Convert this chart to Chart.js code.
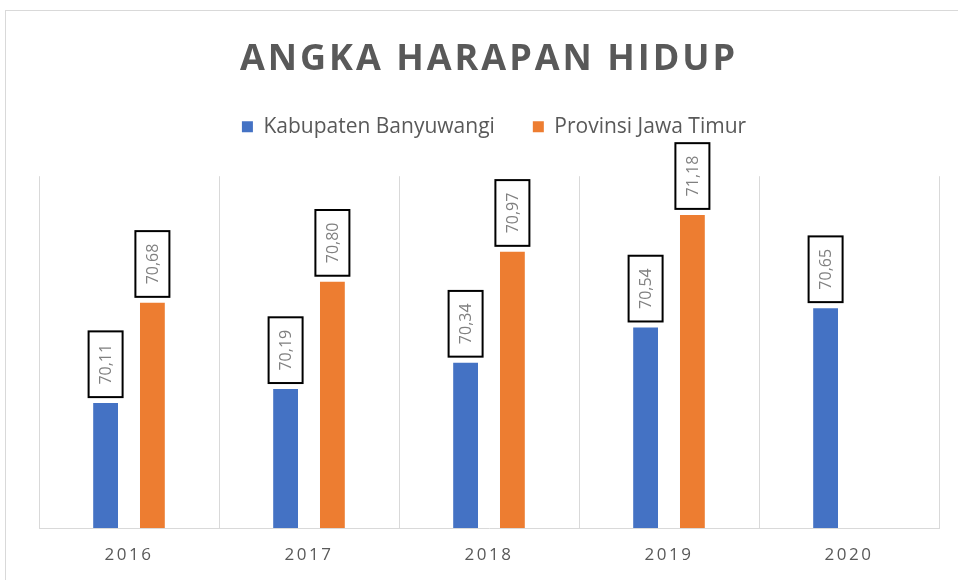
<!DOCTYPE html>
<html>
<head>
<meta charset="utf-8">
<script src="https://cdn.jsdelivr.net/npm/chart.js@4.4.1/dist/chart.umd.min.js"></script>
<style>
  html, body { margin: 0; padding: 0; background: #fff; overflow: hidden; }
  #frame { position: absolute; left: 5px; top: 10px; width: 1000px; height: 700px; border: 1px solid #d9d9d9; }
  #wrap { position: absolute; left: 0; top: 0; width: 958px; height: 580px; }
</style>
</head>
<body>
<div id="frame"></div>
<div id="wrap"><canvas id="chart"></canvas></div>
<script>
// Datos
const years = ['2016', '2017', '2018', '2019', '2020'];
const banyuwangi = [70.11, 70.19, 70.34, 70.54, 70.65];
const jatim = [70.68, 70.80, 70.97, 71.18, null];
const yMin = 69.4;
const yMax = 71.4;

const fmt = v => v.toFixed(2).replace('.', ',');

// Espaciado de letras (título y años) y ajuste de la leyenda
const spacingPlugin = {
    id: 'spacing',
    afterInit(chart) {
        const lg = chart.legend;
        const origFit = lg.fit.bind(lg);
        lg.fit = function() {
            origFit();
            this.height += 8;
        };
        const origDraw = lg.draw.bind(lg);
        lg.draw = function() {
            chart.ctx.save();
            chart.ctx.translate(5, -21);
            origDraw();
            chart.ctx.restore();
        };
    },
    beforeDraw(chart) {
        const t = chart.titleBlock;
        if (t && !t._spaced) {
            const orig = t.draw.bind(t);
            t.draw = function() {
                chart.ctx.save();
                chart.ctx.letterSpacing = '3px';
                orig();
                chart.ctx.restore();
            };
            t._spaced = true;
        }
        const xs = chart.scales.x;
        if (xs && !xs._spaced) {
            const origL = xs.drawLabels.bind(xs);
            xs.drawLabels = function(area) {
                chart.ctx.save();
                chart.ctx.letterSpacing = '2.5px';
                origL(area);
                chart.ctx.restore();
            };
            xs._spaced = true;
        }
    }
};

// Etiquetas de datos en cajas
const boxLabels = {
    id: 'boxLabels',
    afterDatasetsDraw(chart) {
        const ctx = chart.ctx;
        ctx.save();
        ctx.font = '16px "Open Sans"';
        chart.data.datasets.forEach((ds, i) => {
            const meta = chart.getDatasetMeta(i);
            meta.data.forEach((el, j) => {
                const v = ds.data[j];
                if (v === null || v === undefined) return;
                const txt = fmt(v);
                const tw = ctx.measureText(txt).width;
                const bw = 34, bh = tw + 25;
                const bottom = el.y - 6;
                const left = el.x - bw / 2;
                ctx.fillStyle = '#fff';
                ctx.fillRect(left, bottom - bh, bw, bh);
                ctx.lineWidth = 2;
                ctx.strokeStyle = '#000';
                ctx.strokeRect(left, bottom - bh, bw, bh);
                ctx.save();
                ctx.translate(el.x, bottom - bh / 2);
                ctx.rotate(-Math.PI / 2);
                ctx.fillStyle = '#808080';
                ctx.textAlign = 'center';
                ctx.textBaseline = 'middle';
                ctx.fillText(txt, 0, 1);
                ctx.restore();
            });
        });
        ctx.restore();
    }
};

const ctx = document.getElementById('chart').getContext('2d');
const chart = new Chart(ctx, {
    type: 'bar',
    data: {
        labels: years,
        datasets: [
            {
                label: 'Kabupaten Banyuwangi',
                data: banyuwangi,
                backgroundColor: '#4472C4',
                categoryPercentage: 0.52,
                barPercentage: 0.53
            },
            {
                label: 'Provinsi Jawa Timur',
                data: jatim,
                backgroundColor: '#ED7D31',
                categoryPercentage: 0.52,
                barPercentage: 0.53
            }
        ]
    },
    options: {
        responsive: true,
        maintainAspectRatio: false,
        animation: false,
        layout: {
            padding: { left: 39, right: 19, top: 12, bottom: 0 }
        },
        scales: {
            x: {
                afterFit(scale) {
                    scale.height = 52;
                },
                grid: {
                    color: '#d9d9d9',
                    drawTicks: false,
                    offset: true
                },
                border: { color: '#d9d9d9', width: 1 },
                ticks: {
                    color: '#595959',
                    padding: 20,
                    font: { family: '"Open Sans"', size: 17, lineHeight: 0.87 }
                }
            },
            y: {
                display: false,
                min: yMin,
                max: yMax
            }
        },
        plugins: {
            title: {
                display: true,
                text: 'ANGKA HARAPAN HIDUP',
                color: '#595959',
                font: { family: '"Open Sans"', size: 36, weight: 'bold' },
                padding: { top: 26, bottom: 18 }
            },
            legend: {
                position: 'top',
                labels: {
                    color: '#595959',
                    boxWidth: 11,
                    boxHeight: 11,
                    padding: 38,
                    font: { family: '"Open Sans"', size: 21 }
                }
            },
            tooltip: { enabled: false }
        }
    },
    plugins: [spacingPlugin, boxLabels]
});
</script>
</body>
</html>
